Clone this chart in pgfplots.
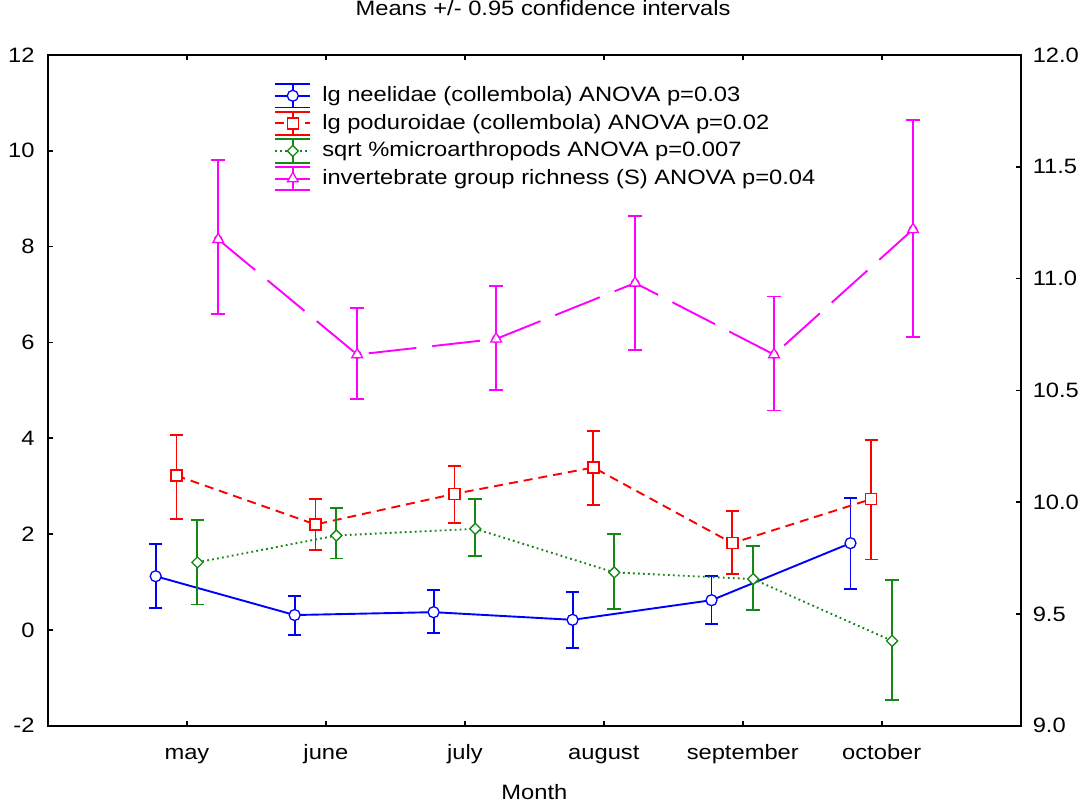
\documentclass[border=0pt]{standalone}
\usepackage{fontspec}
\setmainfont{Liberation Sans}[FakeStretch=1.14]
\usepackage{pgfplots}
\usepackage{pgfplotstable}
\pgfplotsset{compat=1.18}
\definecolor{cblue}{RGB}{0,0,255}
\definecolor{cred}{RGB}{255,0,0}
\definecolor{cgreen}{RGB}{20,135,20}
\definecolor{cmag}{RGB}{255,0,255}
% x = month index + series offset, y = mean, ep/em = upper/lower CI half-widths
\pgfplotstableread{
x y ep em
0.775 1.12 0.68 0.67
1.775 0.31 0.40 0.42
2.775 0.37 0.46 0.44
3.775 0.21 0.58 0.59
4.775 0.62 0.50 0.50
5.775 1.81 0.94 0.96
}\tblblue
\pgfplotstableread{
x y ep em
0.925 3.22 0.85 0.90
1.925 2.20 0.53 0.53
2.925 2.84 0.58 0.60
3.925 3.39 0.77 0.78
4.925 1.81 0.68 0.64
5.925 2.73 1.23 1.26
}\tblred
\pgfplotstableread{
x y ep em
1.075 1.41 0.89 0.88
2.075 1.97 0.57 0.48
3.075 2.11 0.62 0.57
4.075 1.20 0.80 0.76
5.075 1.06 0.69 0.64
6.075 -0.23 1.27 1.23
}\tblgreen
\pgfplotstableread{
x y ep em
1.225 11.175 0.355 0.335
2.225 10.66 0.21 0.20
3.225 10.73 0.235 0.23
4.225 10.98 0.30 0.30
5.225 10.66 0.26 0.25
6.225 11.22 0.49 0.48
}\tblmag
\pgfplotsset{
  common/.style={
    scale only axis, width=486.35pt, height=335.35pt,
    xmin=0, xmax=7,
    tick align=inside, major tick length=2.5pt,
    axis line style={line width=0.85pt},
    every tick/.style={line width=0.85pt, black},
    /pgf/number format/assume math mode=true,
    font=\fontsize{10.4}{12.5}\selectfont,
    clip=false,
  },
  ebleg/.style={legend image code/.code={
      \draw[##1, solid, line width=0.95pt] (0pt,5.85pt) -- (17.5pt,5.85pt) (0pt,-5.85pt) -- (17.5pt,-5.85pt) (8.75pt,-5.85pt) -- (8.75pt,5.85pt);
      \draw[mark repeat=2,mark phase=2,##1] plot coordinates {(0pt,0pt) (8.75pt,0pt) (17.5pt,0pt)};
  }},
  errs/.style={forget plot, only marks, mark=none, color=#1,
    error bars/y dir=both, error bars/y explicit,
    error bars/error bar style={solid, line width=0.95pt, draw=#1},
    error bars/error mark options={solid, line width=0.95pt, mark size=3.4pt, rotate=90, draw=#1}},
  bluestyle/.style={color=cblue, solid, line width=0.95pt, mark=*, mark size=2.75pt, mark options={solid, fill=white, draw=cblue, line width=0.65pt}},
  redstyle/.style={color=cred, dash pattern=on 4.5pt off 3pt, line width=0.95pt, mark=square*, mark size=2.75pt, mark options={solid, fill=white, draw=cred, line width=0.65pt}},
  greenstyle/.style={color=cgreen, dash pattern=on 0.9pt off 1.6pt, line width=0.95pt, mark=square*, mark size=1.95pt, mark options={solid, fill=white, draw=cgreen, rotate=45, line width=0.65pt}},
  magstyle/.style={color=cmag, dash pattern=on 24pt off 8pt, line width=0.95pt, mark=triangle*, mark size=3.1pt, mark options={solid, fill=white, draw=cmag, line width=0.65pt}},
}
\begin{document}
\begin{tikzpicture}
\useasboundingbox (-24pt,-39.65pt) rectangle (519pt,362.85pt);
\begin{axis}[
  common,
  ymin=-2, ymax=12,
  ytick={-2,0,2,4,6,8,10,12}, yticklabels={-2,0,2,4,6,8,10,12},
  ytick pos=left,
  yticklabel style={xshift=-3.2pt},
  xtick={1,2,3,4,5,6}, xticklabels={may,june,july,august,september,october},
  xtick pos=both,
  xticklabel style={inner sep=0pt, anchor=north, text height=7.5pt, text depth=2pt, yshift=-9.15pt},
  xlabel={Month},
  xlabel style={at={(axis description cs:0.5,0)}, anchor=base, inner sep=0pt, yshift=-36.65pt},
  title={Means +/- 0.95 confidence intervals},
  title style={at={(axis description cs:0.509,1)}, anchor=base, inner sep=0pt, yshift=14pt},
]
\addplot[errs=cblue] table[x=x, y=y, y error plus=ep, y error minus=em] {\tblblue};
\addplot[bluestyle] table[x=x, y=y] {\tblblue};
\addplot[errs=cred] table[x=x, y=y, y error plus=ep, y error minus=em] {\tblred};
\addplot[redstyle] table[x=x, y=y] {\tblred};
\addplot[errs=cgreen] table[x=x, y=y, y error plus=ep, y error minus=em] {\tblgreen};
\addplot[greenstyle] table[x=x, y=y] {\tblgreen};
\end{axis}
\begin{axis}[
  common,
  ymin=9, ymax=12,
  hide x axis,
  axis y line*=right,
  ytick={9,9.5,10,10.5,11,11.5,12}, yticklabels={9.0,9.5,10.0,10.5,11.0,11.5,12.0},
  ytick pos=right,
  yticklabel style={xshift=2.5pt},
  legend style={draw=none, fill=none, at={(0.2323,0.9587)}, anchor=north west,
    inner sep=0pt, nodes={inner sep=0pt}, column sep=5.5pt, row sep=1.15pt},
  legend cell align=left,
]
\addlegendimage{bluestyle, ebleg}
\addlegendimage{redstyle, ebleg}
\addlegendimage{greenstyle, ebleg}
\addplot[errs=cmag] table[x=x, y=y, y error plus=ep, y error minus=em] {\tblmag};
\addplot[magstyle, ebleg] table[x=x, y=y] {\tblmag};
\legend{lg neelidae (collembola) ANOVA p=0.03, lg poduroidae (collembola) ANOVA p=0.02, sqrt \%microarthropods ANOVA p=0.007, invertebrate group richness (S) ANOVA p=0.04}
\end{axis}
\end{tikzpicture}
\end{document}
